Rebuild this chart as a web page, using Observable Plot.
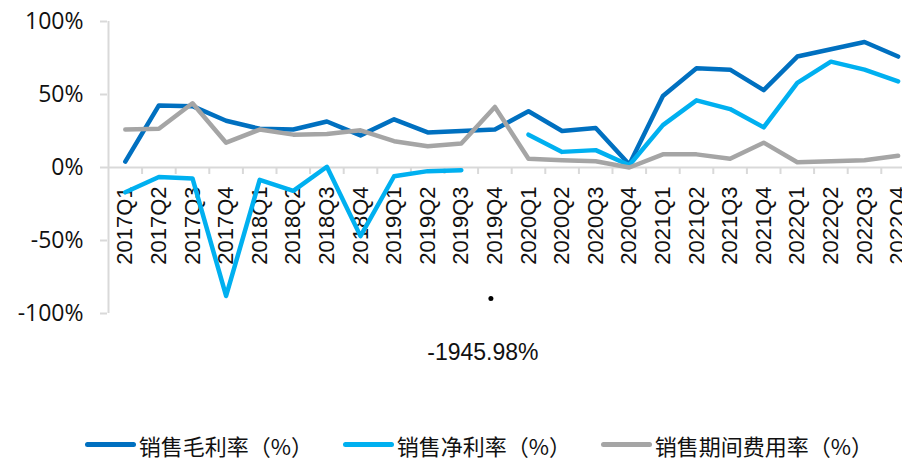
<!DOCTYPE html>
<html>
<head>
<meta charset="utf-8">
<script src="https://cdn.jsdelivr.net/npm/d3@7"></script>
<script src="https://cdn.jsdelivr.net/npm/@observablehq/plot@0.6"></script>
<style>
  html, body { margin: 0; padding: 0; background: #fff; overflow: hidden; }
  #chart svg { display: block; }
  .legend { display: flex; align-items: center; height: 34px; padding-left: 85px;
            font-family: "Noto Sans CJK SC", sans-serif; font-size: 22px; line-height: 1.2; color: #111; }
  .legend .item { display: flex; align-items: center; margin-right: 34px; }
  .legend .sw { width: 52px; height: 5px; border-radius: 3px; margin-right: 3px; }
</style>
</head>
<body>
<div id="chart"></div>
<div class="legend" id="legend"></div>
<script>
// Quarterly categories
const quarters = [
  "2017Q1","2017Q2","2017Q3","2017Q4",
  "2018Q1","2018Q2","2018Q3","2018Q4",
  "2019Q1","2019Q2","2019Q3","2019Q4",
  "2020Q1","2020Q2","2020Q3","2020Q4",
  "2021Q1","2021Q2","2021Q3","2021Q4",
  "2022Q1","2022Q2","2022Q3","2022Q4"
];

// 销售毛利率 (%)
const grossMargin = [4, 42.5, 42, 32, 26.5, 26, 31.5, 22, 33, 24, 25, 26,
                     38.5, 25, 27, 2, 49, 68, 67, 53, 76, 81, 86, 76];
// 销售净利率 (%) — 2019Q4 falls far below the axis range
const netMargin = [-17, -6.5, -7.5, -88, -8.5, -16, 0.5, -47, -6, -2.5, -1.8, -1945.98,
                   22.5, 10.7, 11.9, 1.5, 29, 46, 40, 27.5, 58, 72.5, 67, 59];
// 销售期间费用率 (%)
const expenseRatio = [26, 26.5, 44, 17, 26, 22.5, 23, 25.5, 18, 14.5, 16.5, 41.5,
                      6, 5, 4.3, 0, 9, 9, 6, 17, 3.6, 4.3, 5, 8];

const seriesNames = ["销售毛利率（%）", "销售净利率（%）", "销售期间费用率（%）"];
const seriesColors = ["#0070C0", "#00B0F0", "#A5A5A5"];

const yTicks = [-100, -50, 0, 50, 100];
const yMin = -100, yMax = 100;

const rows = (vals) => vals.map((v, i) => ({i, q: quarters[i], v}));
const gross = rows(grossMargin);
const net = rows(netMargin);
const expense = rows(expenseRatio);
const offScale = net.filter(d => d.v < yMin || d.v > yMax);
const inRange = v => (v < yMin || v > yMax) ? NaN : v;

const chart = Plot.plot({
  width: 902,
  height: 428,
  marginLeft: 107,
  marginRight: 0,
  marginTop: 21,
  marginBottom: 115,
  x: {domain: [-0.5, quarters.length - 0.5], range: [108, 108 + 33.6 * quarters.length], axis: null},
  y: {domain: [yMin, yMax], axis: null},
  style: {background: "#fff", color: "#111"},
  marks: [
    // category axis along zero
    Plot.ruleY([0], {stroke: "#d9d9d9", strokeWidth: 2}),
    Plot.ruleX(d3.range(1, quarters.length + 1), {
      x: d => d - 0.5, y1: 0, y2: 0, insetBottom: -7, stroke: "#d9d9d9", strokeWidth: 2
    }),
    // value axis
    Plot.ruleX([-0.5], {stroke: "#d9d9d9", strokeWidth: 2}),
    Plot.axisY({
      ticks: yTicks, tickFormat: d => d + "%", tickSize: 7, tickPadding: 17, label: null,
      stroke: "#d9d9d9", strokeWidth: 2, fill: "#111", fontSize: 23,
      fontFamily: "Open Sans, sans-serif"
    }),
    // rotated quarter labels under the zero line
    Plot.text(quarters, {
      x: (d, i) => i, y: 0, text: d => d, rotate: -90, textAnchor: "end",
      lineAnchor: "middle", dy: 19, fontSize: 22, fill: "#111",
      fontFamily: "Liberation Sans, Arial, sans-serif"
    }),
    // series lines
    Plot.lineY(gross, {x: "i", y: "v", stroke: seriesColors[0], strokeWidth: 4.5, strokeLinejoin: "round"}),
    Plot.lineY(net, {x: "i", y: d => inRange(d.v), stroke: seriesColors[1], strokeWidth: 4.5, strokeLinejoin: "round"}),
    Plot.lineY(expense, {x: "i", y: "v", stroke: seriesColors[2], strokeWidth: 4.5, strokeLinejoin: "round"}),
    // out-of-range value noted below the frame
    Plot.dot(offScale, {x: "i", frameAnchor: "bottom", dy: -15, dx: -4, r: 2.5, fill: "#000"}),
    Plot.text(offScale, {
      x: "i", frameAnchor: "bottom", lineAnchor: "middle", dy: 39, dx: -12,
      text: d => d.v.toFixed(2) + "%", fontSize: 23, fill: "#111",
      fontFamily: "Liberation Sans, Arial, sans-serif"
    })
  ]
});
document.getElementById("chart").append(chart);

const legend = document.getElementById("legend");
seriesNames.forEach((name, k) => {
  const item = document.createElement("div");
  item.className = "item";
  const sw = document.createElement("span");
  sw.className = "sw";
  sw.style.background = seriesColors[k];
  const label = document.createElement("span");
  label.textContent = name;
  item.append(sw, label);
  legend.append(item);
});
</script>
</body>
</html>
